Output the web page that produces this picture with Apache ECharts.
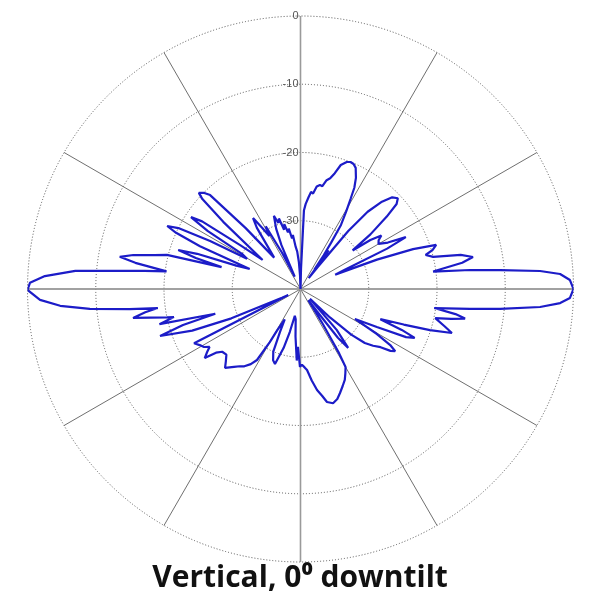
<!DOCTYPE html>
<html>
<head>
<meta charset="utf-8">
<script src="https://cdn.jsdelivr.net/npm/echarts@6/dist/echarts.min.js"></script>
<style>html,body{margin:0;padding:0;background:#fff}#c{width:600px;height:600px}</style>
</head>
<body>
<div id="c"></div>
<script>
// Pattern: angle in degrees (clockwise from top), level in dB
const angles = [
  0, 1.5, 2.5, 3.5, 5, 6.2, 7.5, 9, 10.6, 12, 13.5, 15, 16.5, 18, 20, 21.5, 23, 24.5, 26.5, 28, 29, 30.5, 32.3, 33.5, 34.5, 35.5, 36, 37,
  38, 39.5, 41, 43, 45, 47, 48.5, 50, 52, 53.5, 55, 56.5, 58, 60, 62, 63.8, 65, 66.5, 67.5,
  69, 70.5, 72, 73.5, 74.8, 76.4, 78, 79.5, 80.8, 82.5,
  83.6, 84.6, 85.7, 86.7, 88.1, 90, 91.9, 93.1, 94.3, 95.7, 96.7, 98.1,
  99.2, 100.2, 101.2, 102.2, 104.5, 106.2, 107.6, 109, 110.7, 112, 113.2, 114.5, 116.5, 118.8,
  120.5, 122, 123.3, 124.5, 126, 128, 130, 132, 134, 136,
  138.5, 141, 142.5, 143.5, 145, 147.5, 149, 150, 152, 154, 156.5, 159.2, 161.5, 164.1, 166.8, 168.5, 170.7, 173, 175.4, 177, 178.9,
  180.4, 182.5, 183, 186, 189, 192, 194, 196, 198.8, 201, 203.5, 205.5, 207.5,
  209.5, 210, 211.5, 213.5, 216, 218.2, 220.5, 223.7, 226, 228.5, 231.3, 233, 234.2, 236, 237.5, 239, 240.9, 243, 244,
  245, 247, 249, 251.5, 253, 253.8, 256, 257.5, 258, 260.2, 261.5, 262.4,
  263.3, 264.6, 266, 267.6, 269.8, 271.3, 272.9, 274.6, 275.7, 276.6, 277.5,
  279, 280.1, 281.5, 283, 284.3, 285.5, 286.5, 287.7, 288.8, 290,
  291.5, 293, 294.3, 295.3, 296.5, 298, 299.5, 301, 302, 303.3, 304.5, 306, 307.5,
  309, 311, 312.5, 313.4, 314.8, 316.1, 318, 320, 322, 324.5, 326.2, 328, 329.5, 331, 333, 335,
  336.5, 338, 340, 341.5, 343, 344.5, 346, 347.5, 349, 350.5, 352, 353.5, 355, 356.5, 358, 360
];
const levels = [
  -40, -37, -28.5, -27.5, -26.5, -25.7, -25.9, -24.8, -24.5, -24.6, -23.6, -23.2, -22.3, -20.9, -20.2, -20.0, -20.1, -20.5, -21.8, -23.2, -24.8, -26.8, -28.9, -31.9, -34, -36.5, -33, -38,
  -36, -29, -25, -22.5, -21, -20.5, -21.2, -23.5, -27, -30.5, -27.5, -25.8, -26.5, -26.8, -25.5, -22.8, -26, -33, -34.5,
  -28, -22.5, -19.1, -19.8, -21, -20, -16, -14.3, -16, -20.4,
  -15, -10.6, -4.8, -1.9, -0.5, 0, -0.5, -1.9, -4.8, -10.6, -15, -20.2,
  -17, -15.5, -17.5, -19.8, -18.2, -16.9, -20.1, -24, -27.5, -24, -21.8, -23, -27.5, -30.9,
  -27, -24.5, -23.4, -24, -25.5, -26.5, -27.7, -30, -34, -38,
  -32, -28.9, -31, -36, -38, -34, -29, -26.8, -26, -25.2, -24.5, -23.7, -23, -22.6, -23, -24, -25, -26.5, -28.1, -28.5, -28.9,
  -28.6, -31.5, -29.5, -33, -35.5, -36, -33.5, -31, -28.4, -28.8, -30, -33, -35,
  -33, -31, -27.8, -26.8, -26, -25.6, -25, -24, -24.8, -25.5, -25.3, -24.5, -22.7, -23.5, -24.2, -23.5, -23.1, -22.5, -38,
  -37, -29, -23, -18.3, -22, -27, -18.7, -21, -20, -15.1, -17, -18.9,
  -14.8, -9, -4.7, -1.8, 0, -0.35, -2.5, -6.9, -13.4, -17, -20.2,
  -15.5, -13.1, -15, -18, -19.8, -28, -24, -21.2, -24, -30,
  -32, -24, -20, -18.4, -20, -25, -31, -30, -24, -20.8, -22.5, -29, -33,
  -33, -25, -20.5, -19.5, -20, -20.9, -28, -34, -34, -29, -27.5, -29.5, -31, -29.5, -34, -38,
  -33, -30.5, -28.6, -29.8, -29.2, -31, -30.2, -31.5, -31, -32.5, -32, -33.8, -34.5, -36, -38, -40
];
const radiusTicks = [-40, -30, -20, -10, 0];
const titleText = 'Vertical, 0\u2070 downtilt';

const chart = echarts.init(document.getElementById('c'), null, {renderer: 'canvas'});
const center = [300.5, 289];
const radius = 273;
const option = {
  animation: false,
  backgroundColor: '#fff',
  title: {
    text: titleText,
    left: 'center',
    top: 563,
    padding: 0,
    textStyle: {fontFamily: 'Open Sans', fontWeight: 'bold', fontSize: 30, color: '#111'}
  },
  polar: [
    {center: center, radius: radius},
    {center: center, radius: radius}
  ],
  angleAxis: [
    {
      polarIndex: 0, type: 'value', min: 0, max: 360, interval: 30, startAngle: 90, clockwise: true,
      axisLine: {show: false}, axisTick: {show: false}, axisLabel: {show: false},
      splitLine: {show: true, lineStyle: {color: '#4a4a4a', width: 0.8}}
    },
    {
      polarIndex: 1, type: 'value', min: 0, max: 360, interval: 90, startAngle: 90, clockwise: true,
      axisLine: {show: false}, axisTick: {show: false}, axisLabel: {show: false},
      splitLine: {show: true, lineStyle: {color: '#9a9a9a', width: 1.6}}
    }
  ],
  radiusAxis: [
    {
      polarIndex: 0, type: 'value', min: radiusTicks[0], max: radiusTicks[radiusTicks.length - 1], interval: 10,
      axisLine: {show: false}, axisTick: {show: false},
      axisLabel: {
        show: true, color: '#555', fontSize: 11, fontFamily: 'Liberation Sans', margin: 2,
        formatter: v => (v === radiusTicks[0] ? '' : String(v))
      },
      splitLine: {show: true, lineStyle: {color: '#555', width: 1, type: [1, 2]}}
    },
    {
      polarIndex: 1, type: 'value', min: -40, max: 0, interval: 10,
      axisLine: {show: false}, axisTick: {show: false}, axisLabel: {show: false},
      splitLine: {show: false}
    }
  ],
  series: [{
    type: 'line',
    coordinateSystem: 'polar',
    polarIndex: 0,
    showSymbol: false,
    symbol: 'none',
    smooth: false,
    lineStyle: {color: '#1c1cc8', width: 2.2},
    data: angles.map((a, i) => [levels[i], a]),
    z: 10
  }]
};
chart.setOption(option);
</script>
</body>
</html>
